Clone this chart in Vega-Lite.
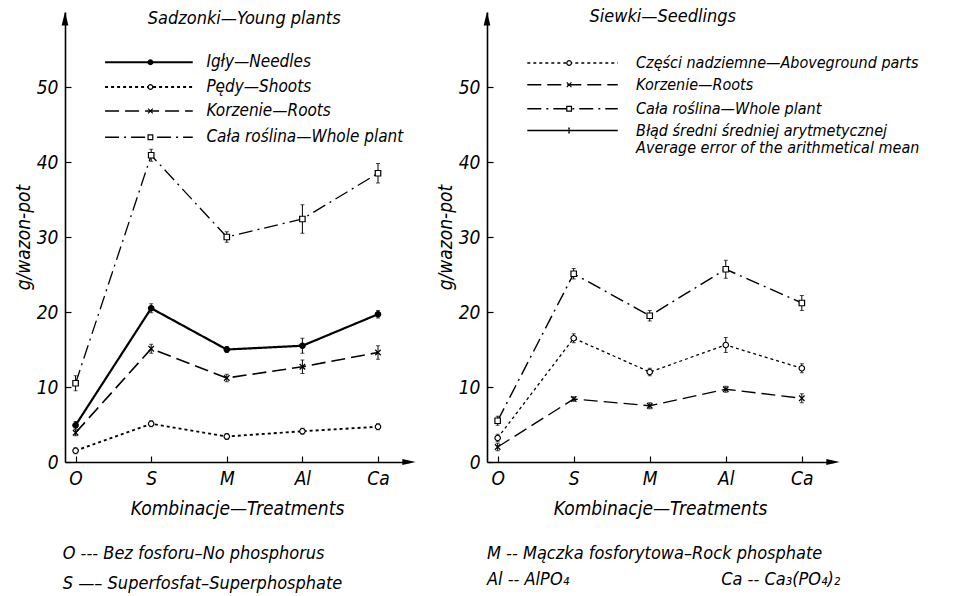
{
  "$schema": "https://vega.github.io/schema/vega-lite/v6.json",
  "background": "white",
  "padding": {"left": 14, "top": 8, "right": 2, "bottom": 0},
  "spacing": 20,
  "resolve": {"scale": {"strokeDash": "independent", "strokeWidth": "independent", "shape": "independent", "fill": "independent", "x": "independent", "y": "independent"}},
  "config": {
    "view": {"stroke": null},
    "font": "DejaVu Sans Condensed, sans-serif",
    "axis": {
      "grid": false, "domainColor": "black", "domainWidth": 1.6,
      "tickColor": "black", "tickSize": -6, "tickWidth": 1.2,
      "labelFont": "DejaVu Sans Condensed, sans-serif",
      "labelFontStyle": "italic", "labelFontSize": 19, "labelColor": "black",
      "titleFont": "DejaVu Sans Condensed, sans-serif",
      "titleFontStyle": "italic", "titleFontWeight": "normal", "titleFontSize": 19, "titleColor": "black"
    },
    "text": {"font": "DejaVu Sans Condensed, sans-serif", "fontStyle": "italic", "color": "black"}
  },
  "hconcat": [
    {
      "width": 344, "height": 450,
      "layer": [
        {
          "data": {"name": "young", "values": [
            {"s": "Needles", "t": 0, "v": 4.9, "e": 0.5}, {"s": "Needles", "t": 1, "v": 20.5, "e": 0.6}, {"s": "Needles", "t": 2, "v": 15.0, "e": 0.4}, {"s": "Needles", "t": 3, "v": 15.5, "e": 1.0}, {"s": "Needles", "t": 4, "v": 19.7, "e": 0.5},
            {"s": "Shoots", "t": 0, "v": 1.5, "e": 0.4}, {"s": "Shoots", "t": 1, "v": 5.1, "e": 0.4}, {"s": "Shoots", "t": 2, "v": 3.4, "e": 0.4}, {"s": "Shoots", "t": 3, "v": 4.1, "e": 0.4}, {"s": "Shoots", "t": 4, "v": 4.7, "e": 0.4},
            {"s": "Roots", "t": 0, "v": 3.9, "e": 0.4}, {"s": "Roots", "t": 1, "v": 15.1, "e": 0.6}, {"s": "Roots", "t": 2, "v": 11.2, "e": 0.5}, {"s": "Roots", "t": 3, "v": 12.7, "e": 0.9}, {"s": "Roots", "t": 4, "v": 14.6, "e": 0.9},
            {"s": "Whole", "t": 0, "v": 10.5, "e": 1.0}, {"s": "Whole", "t": 1, "v": 40.9, "e": 0.8}, {"s": "Whole", "t": 2, "v": 30.0, "e": 0.7}, {"s": "Whole", "t": 3, "v": 32.4, "e": 1.9}, {"s": "Whole", "t": 4, "v": 38.5, "e": 1.3}
          ]},
          "mark": {"type": "line", "color": "black"},
          "encoding": {
            "x": {"field": "t", "type": "quantitative", "title": "Kombinacje—Treatments", "scale": {"domain": [-0.14, 4.41], "nice": false, "zero": false},
                  "axis": {"values": [0, 1, 2, 3, 4], "labelExpr": "['O','S','M','Al','Ca'][datum.value]", "labelPadding": 13, "titlePadding": 11}},
            "y": {"field": "v", "type": "quantitative", "title": "g/wazon-pot", "scale": {"domain": [0, 60], "nice": false},
                  "axis": {"values": [0, 10, 20, 30, 40, 50], "labelPadding": 13, "titlePadding": 3}},
            "detail": {"field": "s"},
            "strokeDash": {"field": "s", "type": "nominal", "scale": {"domain": ["Needles", "Shoots", "Roots", "Whole"], "range": [[1, 0], [3, 3], [14, 6], [14, 5, 2, 5]]}, "legend": null},
            "strokeWidth": {"field": "s", "type": "nominal", "scale": {"domain": ["Needles", "Shoots", "Roots", "Whole"], "range": [2.2, 1.3, 1.5, 1.5]}, "legend": null}
          }
        },
        {
          "data": {"name": "young"},
          "mark": {"type": "errorbar", "color": "black", "ticks": {"size": 4, "color": "black"}, "rule": {"color": "black", "strokeWidth": 1}},
          "encoding": {
            "x": {"field": "t", "type": "quantitative", "title": "Kombinacje—Treatments"},
            "y": {"field": "v", "type": "quantitative", "title": "g/wazon-pot"},
            "yError": {"field": "e"}
          }
        },
        {
          "data": {"name": "young"},
          "mark": {"type": "point", "filled": true, "stroke": "black", "strokeWidth": 1.2, "opacity": 1, "size": 30},
          "encoding": {
            "x": {"field": "t", "type": "quantitative", "title": "Kombinacje—Treatments"},
            "y": {"field": "v", "type": "quantitative", "title": "g/wazon-pot"},
            "shape": {"field": "s", "type": "nominal", "scale": {"domain": ["Needles", "Shoots", "Roots", "Whole"], "range": ["circle", "circle", "M-1,-1L1,1M-1,1L1,-1", "square"]}, "legend": null},
            "fill": {"field": "s", "type": "nominal", "scale": {"domain": ["Needles", "Shoots", "Roots", "Whole"], "range": ["black", "white", "black", "white"]}, "legend": null}
          }
        },
        {
          "data": {"name": "youngLegend", "values": [
            {"s": "Needles", "x1": 0.39, "x2": 1.55, "xm": 0.99, "xt": 1.73, "y": 53.3, "label": "Igły—Needles"},
            {"s": "Shoots", "x1": 0.39, "x2": 1.55, "xm": 0.99, "xt": 1.73, "y": 50.0, "label": "Pędy—Shoots"},
            {"s": "Roots", "x1": 0.39, "x2": 1.55, "xm": 0.99, "xt": 1.73, "y": 46.8, "label": "Korzenie—Roots"},
            {"s": "Whole", "x1": 0.39, "x2": 1.55, "xm": 0.99, "xt": 1.73, "y": 43.3, "label": "Cała roślina—Whole plant"}
          ]},
          "mark": {"type": "rule", "color": "black"},
          "encoding": {
            "x": {"field": "x1", "type": "quantitative", "title": "Kombinacje—Treatments"},
            "x2": {"field": "x2"},
            "y": {"field": "y", "type": "quantitative", "title": "g/wazon-pot"},
            "strokeDash": {"field": "s", "type": "nominal", "scale": {"domain": ["Needles", "Shoots", "Roots", "Whole"], "range": [[1, 0], [3, 3], [14, 6], [14, 5, 2, 5]]}, "legend": null},
            "strokeWidth": {"field": "s", "type": "nominal", "scale": {"domain": ["Needles", "Shoots", "Roots", "Whole"], "range": [2.2, 1.3, 1.5, 1.5]}, "legend": null}
          }
        },
        {
          "data": {"name": "youngLegend"},
          "mark": {"type": "point", "filled": true, "stroke": "black", "strokeWidth": 1.2, "opacity": 1, "size": 22},
          "encoding": {
            "x": {"field": "xm", "type": "quantitative", "title": "Kombinacje—Treatments"},
            "y": {"field": "y", "type": "quantitative", "title": "g/wazon-pot"},
            "shape": {"field": "s", "type": "nominal", "scale": {"domain": ["Needles", "Shoots", "Roots", "Whole"], "range": ["circle", "circle", "M-1,-1L1,1M-1,1L1,-1", "square"]}, "legend": null},
            "fill": {"field": "s", "type": "nominal", "scale": {"domain": ["Needles", "Shoots", "Roots", "Whole"], "range": ["black", "white", "black", "white"]}, "legend": null}
          }
        },
        {
          "data": {"name": "youngLegend"},
          "mark": {"type": "text", "align": "left", "baseline": "middle", "fontSize": 17},
          "encoding": {
            "x": {"field": "xt", "type": "quantitative", "title": "Kombinacje—Treatments"},
            "y": {"field": "y", "type": "quantitative", "title": "g/wazon-pot"},
            "text": {"field": "label"}
          }
        },
        {
          "data": {"values": [{"x": 2.23, "y": 59.1, "label": "Sadzonki—Young plants"}]},
          "mark": {"type": "text", "align": "center", "baseline": "middle", "fontSize": 18},
          "encoding": {
            "x": {"field": "x", "type": "quantitative", "title": "Kombinacje—Treatments"},
            "y": {"field": "y", "type": "quantitative", "title": "g/wazon-pot"},
            "text": {"field": "label"}
          }
        },
        {
          "data": {"values": [
            {"x": -0.17, "y": -12.3, "label": "O --- Bez fosforu–No phosphorus"},
            {"x": -0.17, "y": -16.3, "label": "S —– Superfosfat–Superphosphate"}
          ]},
          "mark": {"type": "text", "align": "left", "baseline": "middle", "fontSize": 18},
          "encoding": {
            "x": {"field": "x", "type": "quantitative", "title": "Kombinacje—Treatments"},
            "y": {"field": "y", "type": "quantitative", "title": "g/wazon-pot"},
            "text": {"field": "label"}
          }
        },
        {
          "data": {"values": [{"x": -0.14, "y": 59.1}]},
          "mark": {"type": "point", "filled": true, "color": "black", "opacity": 1, "size": 180, "shape": "M0,-1L0.5,1L-0.5,1Z"},
          "encoding": {
            "x": {"field": "x", "type": "quantitative", "title": "Kombinacje—Treatments"},
            "y": {"field": "y", "type": "quantitative", "title": "g/wazon-pot"}
          }
        },
        {
          "data": {"values": [{"x": 4.41, "y": 0}]},
          "mark": {"type": "point", "filled": true, "color": "black", "opacity": 1, "size": 180, "shape": "M1,0L-1,0.45L-1,-0.45Z"},
          "encoding": {
            "x": {"field": "x", "type": "quantitative", "title": "Kombinacje—Treatments"},
            "y": {"field": "y", "type": "quantitative", "title": "g/wazon-pot"}
          }
        }
      ]
    },
    {
      "width": 346, "height": 450,
      "layer": [
        {
          "data": {"name": "seed", "values": [
            {"s": "Above", "t": 0, "v": 3.2, "e": 0.5}, {"s": "Above", "t": 1, "v": 16.5, "e": 0.6}, {"s": "Above", "t": 2, "v": 12.0, "e": 0.5}, {"s": "Above", "t": 3, "v": 15.6, "e": 1.0}, {"s": "Above", "t": 4, "v": 12.5, "e": 0.6},
            {"s": "Roots", "t": 0, "v": 2.0, "e": 0.5}, {"s": "Roots", "t": 1, "v": 8.4, "e": 0.3}, {"s": "Roots", "t": 2, "v": 7.5, "e": 0.4}, {"s": "Roots", "t": 3, "v": 9.7, "e": 0.4}, {"s": "Roots", "t": 4, "v": 8.5, "e": 0.6},
            {"s": "Whole", "t": 0, "v": 5.5, "e": 0.6}, {"s": "Whole", "t": 1, "v": 25.1, "e": 0.7}, {"s": "Whole", "t": 2, "v": 19.5, "e": 0.7}, {"s": "Whole", "t": 3, "v": 25.7, "e": 1.2}, {"s": "Whole", "t": 4, "v": 21.2, "e": 1.0}
          ]},
          "mark": {"type": "line", "color": "black"},
          "encoding": {
            "x": {"field": "t", "type": "quantitative", "title": "Kombinacje—Treatments", "scale": {"domain": [-0.14, 4.41], "nice": false, "zero": false},
                  "axis": {"values": [0, 1, 2, 3, 4], "labelExpr": "['O','S','M','Al','Ca'][datum.value]", "labelPadding": 13, "titlePadding": 11}},
            "y": {"field": "v", "type": "quantitative", "title": "g/wazon-pot", "scale": {"domain": [0, 60], "nice": false},
                  "axis": {"values": [0, 10, 20, 30, 40, 50], "labelPadding": 13, "titlePadding": 3}},
            "detail": {"field": "s"},
            "strokeDash": {"field": "s", "type": "nominal", "scale": {"domain": ["Above", "Roots", "Whole", "Error"], "range": [[3, 3], [14, 6], [14, 5, 2, 5], [1, 0]]}, "legend": null},
            "strokeWidth": {"field": "s", "type": "nominal", "scale": {"domain": ["Above", "Roots", "Whole", "Error"], "range": [1.3, 1.5, 1.5, 1.5]}, "legend": null}
          }
        },
        {
          "data": {"name": "seed"},
          "mark": {"type": "errorbar", "color": "black", "ticks": {"size": 4, "color": "black"}, "rule": {"color": "black", "strokeWidth": 1}},
          "encoding": {
            "x": {"field": "t", "type": "quantitative", "title": "Kombinacje—Treatments"},
            "y": {"field": "v", "type": "quantitative", "title": "g/wazon-pot"},
            "yError": {"field": "e"}
          }
        },
        {
          "data": {"name": "seed"},
          "mark": {"type": "point", "filled": true, "stroke": "black", "strokeWidth": 1.2, "opacity": 1, "size": 30},
          "encoding": {
            "x": {"field": "t", "type": "quantitative", "title": "Kombinacje—Treatments"},
            "y": {"field": "v", "type": "quantitative", "title": "g/wazon-pot"},
            "shape": {"field": "s", "type": "nominal", "scale": {"domain": ["Above", "Roots", "Whole", "Error"], "range": ["circle", "M-1,-1L1,1M-1,1L1,-1", "square", "M-0.4,-1L0,-1L0,1L-0.4,1"]}, "legend": null},
            "fill": {"field": "s", "type": "nominal", "scale": {"domain": ["Above", "Roots", "Whole", "Error"], "range": ["white", "black", "white", "transparent"]}, "legend": null}
          }
        },
        {
          "data": {"name": "seedLegend", "values": [
            {"s": "Above", "x1": 0.39, "x2": 1.58, "xm": 0.94, "xt": 1.82, "y": 53.2, "label": "Części nadziemne—Aboveground parts"},
            {"s": "Roots", "x1": 0.39, "x2": 1.58, "xm": 0.94, "xt": 1.82, "y": 50.3, "label": "Korzenie—Roots"},
            {"s": "Whole", "x1": 0.39, "x2": 1.58, "xm": 0.94, "xt": 1.82, "y": 47.1, "label": "Cała roślina—Whole plant"},
            {"s": "Error", "x1": 0.39, "x2": 1.58, "xm": 0.94, "xt": 1.82, "y": 44.2, "label": "Błąd średni średniej arytmetycznej"},
            {"s": "Note", "xt": 1.82, "y": 41.9, "label": "Average error of the arithmetical mean"}
          ]},
          "transform": [{"filter": "datum.s != 'Note'"}],
          "mark": {"type": "rule", "color": "black"},
          "encoding": {
            "x": {"field": "x1", "type": "quantitative", "title": "Kombinacje—Treatments"},
            "x2": {"field": "x2"},
            "y": {"field": "y", "type": "quantitative", "title": "g/wazon-pot"},
            "strokeDash": {"field": "s", "type": "nominal", "scale": {"domain": ["Above", "Roots", "Whole", "Error"], "range": [[3, 3], [14, 6], [14, 5, 2, 5], [1, 0]]}, "legend": null},
            "strokeWidth": {"field": "s", "type": "nominal", "scale": {"domain": ["Above", "Roots", "Whole", "Error"], "range": [1.3, 1.5, 1.5, 1.5]}, "legend": null}
          }
        },
        {
          "data": {"name": "seedLegend"},
          "transform": [{"filter": "datum.s != 'Note'"}],
          "mark": {"type": "point", "filled": true, "stroke": "black", "strokeWidth": 1.2, "opacity": 1, "size": 22},
          "encoding": {
            "x": {"field": "xm", "type": "quantitative", "title": "Kombinacje—Treatments"},
            "y": {"field": "y", "type": "quantitative", "title": "g/wazon-pot"},
            "shape": {"field": "s", "type": "nominal", "scale": {"domain": ["Above", "Roots", "Whole", "Error"], "range": ["circle", "M-1,-1L1,1M-1,1L1,-1", "square", "M-0.4,-1L0,-1L0,1L-0.4,1"]}, "legend": null},
            "fill": {"field": "s", "type": "nominal", "scale": {"domain": ["Above", "Roots", "Whole", "Error"], "range": ["white", "black", "white", "transparent"]}, "legend": null}
          }
        },
        {
          "data": {"name": "seedLegend"},
          "mark": {"type": "text", "align": "left", "baseline": "middle", "fontSize": 16},
          "encoding": {
            "x": {"field": "xt", "type": "quantitative", "title": "Kombinacje—Treatments"},
            "y": {"field": "y", "type": "quantitative", "title": "g/wazon-pot"},
            "text": {"field": "label"}
          }
        },
        {
          "data": {"values": [{"x": 2.17, "y": 59.3, "label": "Siewki—Seedlings"}]},
          "mark": {"type": "text", "align": "center", "baseline": "middle", "fontSize": 18},
          "encoding": {
            "x": {"field": "x", "type": "quantitative", "title": "Kombinacje—Treatments"},
            "y": {"field": "y", "type": "quantitative", "title": "g/wazon-pot"},
            "text": {"field": "label"}
          }
        },
        {
          "data": {"values": [
            {"x": -0.14, "y": -12.2, "label": "M -- Mączka fosforytowa–Rock phosphate"},
            {"x": -0.14, "y": -15.7, "label": "Al -- AlPO₄"},
            {"x": 2.94, "y": -15.7, "label": "Ca -- Ca₃(PO₄)₂"}
          ]},
          "mark": {"type": "text", "align": "left", "baseline": "middle", "fontSize": 18},
          "encoding": {
            "x": {"field": "x", "type": "quantitative", "title": "Kombinacje—Treatments"},
            "y": {"field": "y", "type": "quantitative", "title": "g/wazon-pot"},
            "text": {"field": "label"}
          }
        },
        {
          "data": {"values": [{"x": -0.14, "y": 59.1}]},
          "mark": {"type": "point", "filled": true, "color": "black", "opacity": 1, "size": 180, "shape": "M0,-1L0.5,1L-0.5,1Z"},
          "encoding": {
            "x": {"field": "x", "type": "quantitative", "title": "Kombinacje—Treatments"},
            "y": {"field": "y", "type": "quantitative", "title": "g/wazon-pot"}
          }
        },
        {
          "data": {"values": [{"x": 4.41, "y": 0}]},
          "mark": {"type": "point", "filled": true, "color": "black", "opacity": 1, "size": 180, "shape": "M1,0L-1,0.45L-1,-0.45Z"},
          "encoding": {
            "x": {"field": "x", "type": "quantitative", "title": "Kombinacje—Treatments"},
            "y": {"field": "y", "type": "quantitative", "title": "g/wazon-pot"}
          }
        }
      ]
    }
  ]
}
